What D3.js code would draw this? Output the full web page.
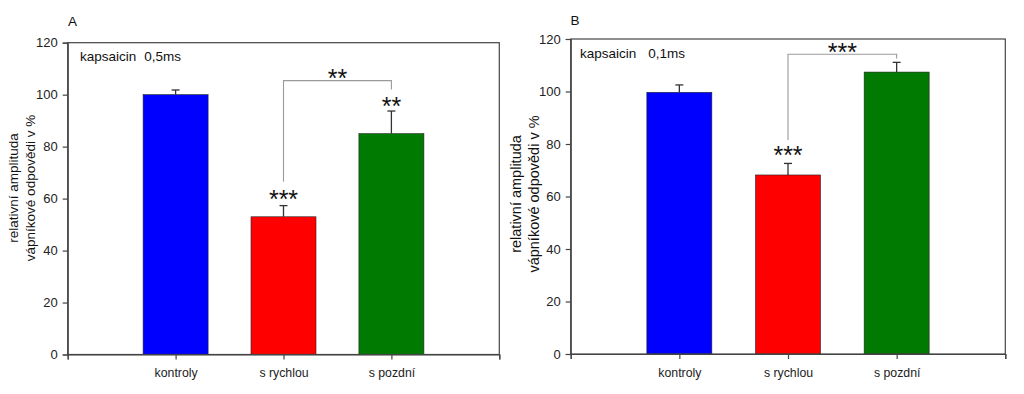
<!DOCTYPE html>
<html>
<head>
<meta charset="utf-8">
<script src="https://cdn.jsdelivr.net/npm/d3@7"></script>
<style>
  html, body { margin: 0; padding: 0; background: #fff; }
  svg { display: block; }
  text { font-family: "Liberation Sans", Arial, sans-serif; }
</style>
</head>
<body>
<svg id="chart" width="1024" height="394"></svg>
<script>
// ---- data ----
const categories = ["kontroly", "s rychlou", "s pozdní"];
const barColors = ["#0000ff", "#ff0000", "#007a00"];
const yTicks = [0, 20, 40, 60, 80, 100, 120];
const yLabelLines = ["relativní amplituda", "vápníkové odpovědi v %"];

const valuesA = [100, 53, 85];
const errorsA = [1.8, 4.3, 8.7];
const starsA = [
  { cat: 1, value: 61.8, text: "***" },
  { cat: 2, value: 97.6, text: "**" }
];
const bracketA = { from: 1, to: 2, value: 105.4, fromEnd: 66.5, toEnd: 102, text: "**", textValue: 108.5 };

const valuesB = [99.7, 68.2, 107.4];
const errorsB = [2.8, 4.4, 3.7];
const starsB = [
  { cat: 1, value: 77.7, text: "***" }
];
const bracketB = { from: 1, to: 2, value: 114.2, fromEnd: 81.5, toEnd: 112.6, text: "***", textValue: 117.1 };

// ---- drawing ----
const svg = d3.select("#chart");

function drawPanel(p) {
  const g = svg.append("g");
  const x = d3.scaleLinear().domain([0, 4]).range([p.x0, p.x1]);
  const y = d3.scaleLinear().domain([0, 120]).range([p.yBottom, p.yTop]);
  const bw = 65;

  // bars
  g.selectAll("rect.bar").data(p.values).enter().append("rect")
    .attr("x", (d, i) => x(i + 1) - bw / 2)
    .attr("y", d => y(d))
    .attr("width", bw)
    .attr("height", d => y(0) - y(d))
    .attr("fill", (d, i) => barColors[i])
    .attr("stroke", "#222")
    .attr("stroke-width", 0.6);

  // error bars
  p.values.forEach((v, i) => {
    const cx = x(i + 1);
    g.append("line").attr("x1", cx).attr("x2", cx)
      .attr("y1", y(v)).attr("y2", y(v + p.errors[i]))
      .attr("stroke", "#333").attr("stroke-width", 1.3);
    g.append("line").attr("x1", cx - 4).attr("x2", cx + 4)
      .attr("y1", y(v + p.errors[i])).attr("y2", y(v + p.errors[i]))
      .attr("stroke", "#333").attr("stroke-width", 1.3);
  });

  // frame
  g.append("rect").attr("x", p.x0).attr("y", p.yTop)
    .attr("width", p.x1 - p.x0).attr("height", p.yBottom - p.yTop)
    .attr("fill", "none").attr("stroke", "#444").attr("stroke-width", 1.2);

  // y axis
  const yAxis = d3.axisLeft(y).tickValues(yTicks).tickSize(5).tickPadding(5);
  const ya = g.append("g").attr("transform", `translate(${p.x0},0)`).call(yAxis);
  ya.select(".domain").attr("stroke", "#444").attr("stroke-width", 1.2);
  ya.selectAll(".tick line").attr("stroke", "#444").attr("stroke-width", 1.2);
  ya.selectAll(".tick text").attr("font-size", 13).attr("fill", "#222")
    .attr("font-family", "Liberation Sans, Arial, sans-serif");

  // x axis
  const xAxis = d3.axisBottom(x).tickValues([0, 1, 2, 3, 4]).tickSize(5).tickPadding(9)
    .tickFormat(d => (d >= 1 && d <= 3) ? categories[d - 1] : "");
  const xa = g.append("g").attr("transform", `translate(0,${p.yBottom})`).call(xAxis);
  xa.select(".domain").attr("stroke", "#444").attr("stroke-width", 1.2);
  xa.selectAll(".tick line").attr("stroke", "#444").attr("stroke-width", 1.2);
  xa.selectAll(".tick text").attr("font-size", 12.3).attr("fill", "#222")
    .attr("font-family", "Liberation Sans, Arial, sans-serif");

  // stars over bars
  const starFs = 25;
  p.stars.forEach(s => {
    g.append("text").attr("x", x(s.cat + 1)).attr("y", y(s.value) + 0.575 * starFs)
      .attr("text-anchor", "middle").attr("font-size", starFs).attr("fill", "#111")
      .text(s.text);
  });

  // bracket
  const b = p.bracket;
  const bx1 = x(b.from + 1), bx2 = x(b.to + 1);
  g.append("path")
    .attr("d", `M${bx1},${y(b.fromEnd)}V${y(b.value)}H${bx2}V${y(b.toEnd)}`)
    .attr("fill", "none").attr("stroke", "#9a9a9a").attr("stroke-width", 1.1);
  g.append("text").attr("x", (bx1 + bx2) / 2).attr("y", y(b.textValue) + 0.575 * starFs)
    .attr("text-anchor", "middle").attr("font-size", starFs).attr("fill", "#111")
    .text(b.text);

  // panel letter
  g.append("text").attr("x", p.letterX).attr("y", p.letterY)
    .attr("font-size", 13.5).attr("fill", "#111").text(p.letter);

  // inner label
  g.append("text").attr("x", p.kapX).attr("y", p.kapY)
    .attr("font-size", 13.5).attr("fill", "#111").text("kapsaicin");
  g.append("text").attr("x", p.msX).attr("y", p.kapY)
    .attr("font-size", 13.5).attr("fill", "#111").text(p.ms);

  // y label
  yLabelLines.forEach((t, i) => {
    g.append("text")
      .attr("transform", `translate(${p.ylabX[i]},${p.ylabY}) rotate(-90)`)
      .attr("text-anchor", "middle").attr("font-size", p.ylabFs).attr("fill", "#111")
      .text(t);
  });
}

drawPanel({
  x0: 67.7, x1: 499.3, yTop: 42.7, yBottom: 354.5,
  values: valuesA, errors: errorsA, stars: starsA, bracket: bracketA,
  letter: "A", letterX: 68, letterY: 26,
  kapX: 80, msX: 144.3, kapY: 61, ms: "0,5ms",
  ylabX: [18, 34.5], ylabY: 188, ylabFs: 13.5
});

drawPanel({
  x0: 570.7, x1: 1005.3, yTop: 39, yBottom: 354,
  values: valuesB, errors: errorsB, stars: starsB, bracket: bracketB,
  letter: "B", letterX: 570.5, letterY: 25,
  kapX: 580, msX: 648.3, kapY: 57.5, ms: "0,1ms",
  ylabX: [521, 538.5], ylabY: 194, ylabFs: 14.5
});
</script>
</body>
</html>
